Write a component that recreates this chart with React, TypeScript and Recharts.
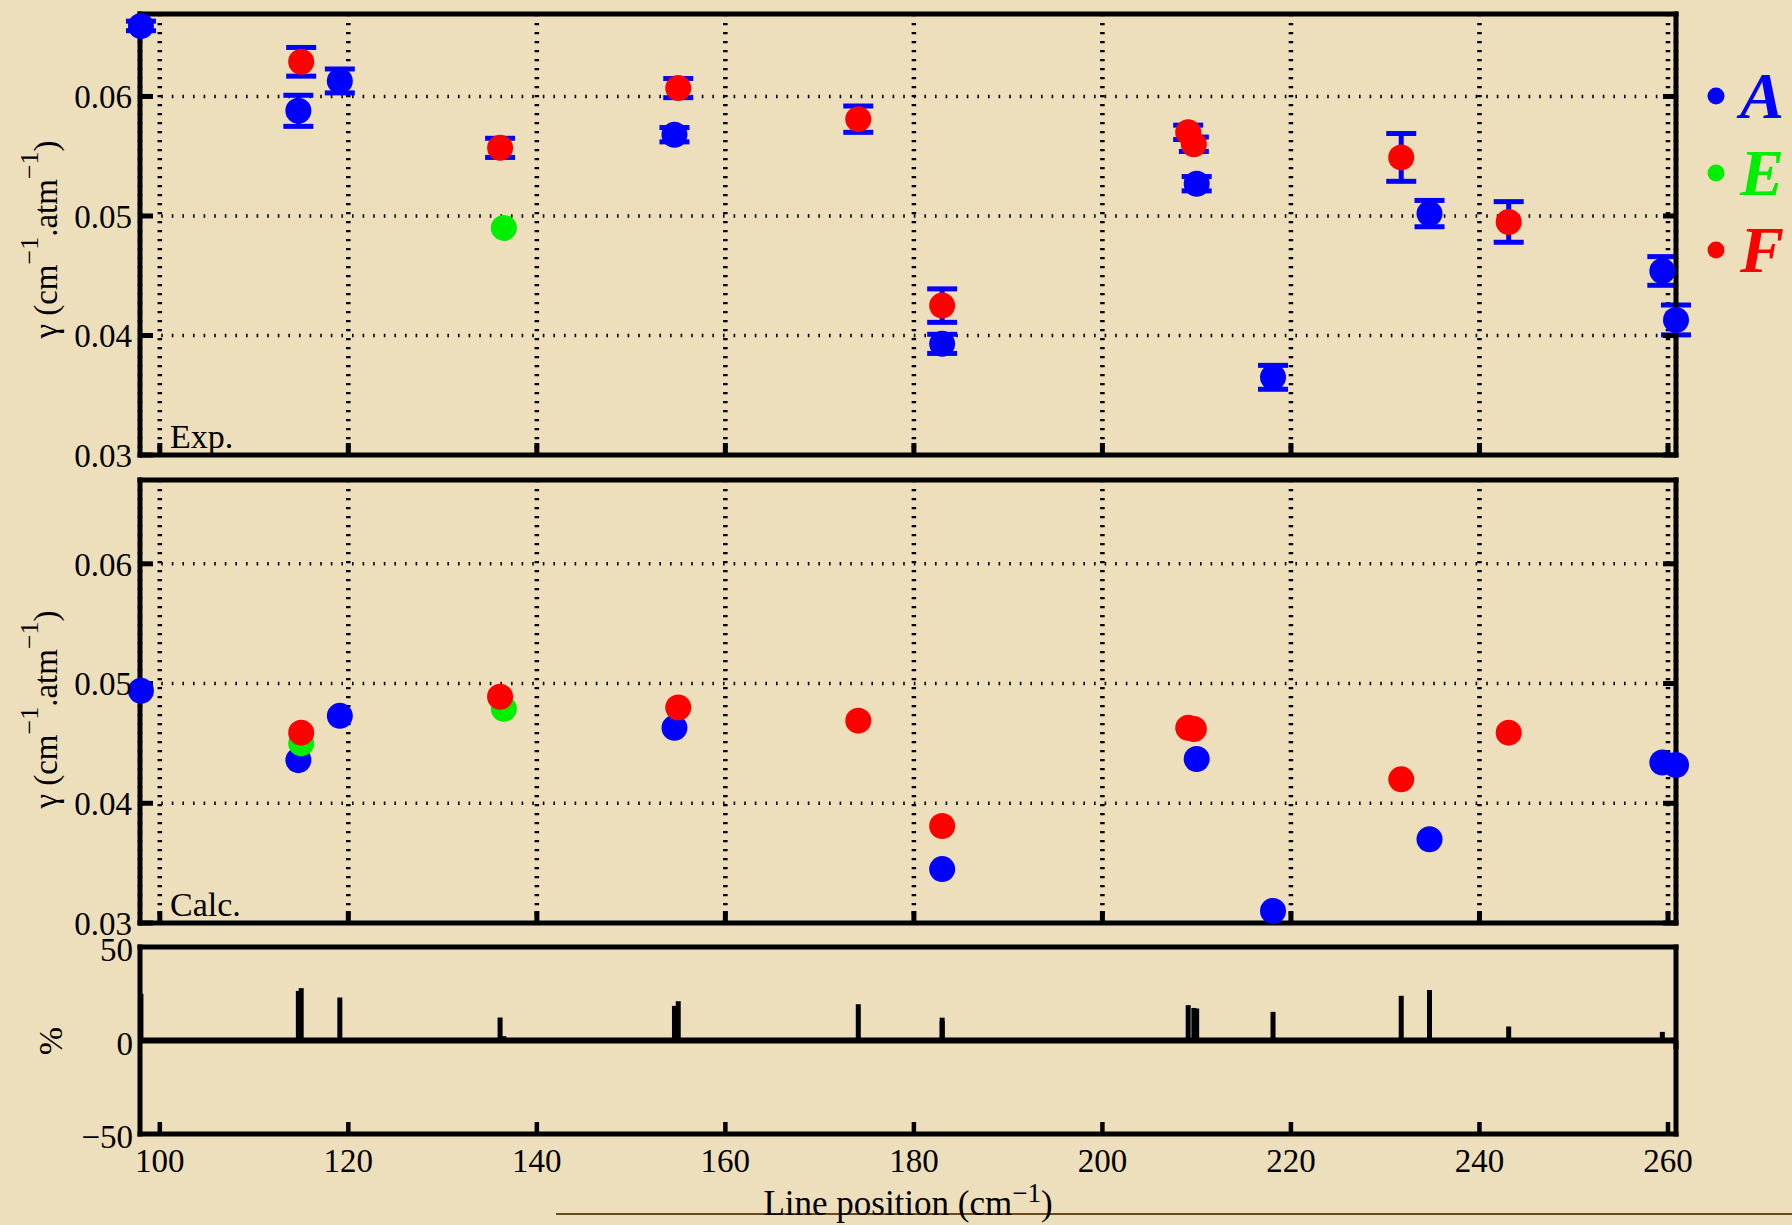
import React from 'react';
import {
  ScatterChart,
  Scatter,
  XAxis,
  YAxis,
  CartesianGrid,
  ErrorBar,
  ReferenceLine,
  Legend,
} from 'recharts';

// page + plot geometry (px)
const W = 1792;
const H = 1225;
const SERIF = '"Liberation Serif", "DejaVu Serif", serif';
const PAPER = '#eedfbc';
const BLUE = '#0000ff';
const GREEN = '#00ee00';
const RED = '#ff0000';

// axes
const xDomain = [97.9, 260.85];
const xTicks = [100, 120, 140, 160, 180, 200, 220, 240, 260];
const gammaTicks = [0.03, 0.04, 0.05, 0.06];
const pctTicks = [-50, 0, 50];

// symmetry A lines (cm-1), exp / calc widths (cm-1.atm-1), diff (%)
const posA = [98.0, 114.7, 119.1, 154.6, 183.0, 210.0, 218.1, 234.7, 259.4, 260.85];
const expA = [0.0659, 0.0588, 0.0613, 0.0568, 0.0393, 0.0527, 0.0365, 0.0502, 0.0454, 0.0413];
const errA = [0.0004, 0.0013, 0.001, 0.0006, 0.0008, 0.0006, 0.001, 0.0011, 0.0012, 0.00125];
const calcA = [0.0494, 0.0436, 0.0473, 0.0463, 0.0345, 0.0437, 0.031, 0.037, 0.0434, 0.0432];
const diffA = [25.0, 26.5, 23.0, 18.5, 12.2, 17.1, 15.3, 27.0, 4.6, -4.6];

// symmetry E lines
const posE = [115.0, 136.5];
const expE = [null, 0.049];
const calcE = [0.045, 0.0479];
const diffE = [null, 2.3];

// symmetry F lines
const posF = [115.0, 136.1, 155.0, 174.1, 183.0, 209.1, 209.7, 231.7, 243.1];
const expF = [0.0629, 0.0557, 0.0607, 0.0581, 0.0425, 0.057, 0.056, 0.0549, 0.0495];
const errF = [0.0012, 0.0008, 0.0008, 0.0011, 0.0014, 0.0006, 0.0006, 0.002, 0.0017];
const calcF = [0.0459, 0.0489, 0.048, 0.0469, 0.0381, 0.0463, 0.0462, 0.042, 0.0459];
const diffF = [28.0, 12.3, 21.0, 19.4, 10.4, 18.9, 17.4, 23.9, 7.5];

const toPoints = (pos: number[], vals: (number | null)[], errs?: number[]) =>
  pos.flatMap((x, i) =>
    vals[i] == null ? [] : [{ x, y: vals[i] as number, err: errs ? errs[i] : 0 }]
  );

// bars drawn as one-sided error bars from 0 to the value
const toBars = (pos: number[], diffs: (number | null)[]) =>
  pos.flatMap((x, i) => {
    const d = diffs[i];
    if (d == null) return [];
    return [{ x, y: d, bar: [Math.max(d, 0), Math.max(-d, 0)] }];
  });

const FRAME = { stroke: '#000', strokeWidth: 5, strokeLinecap: 'square' as const };
const TICK = { stroke: '#000', strokeWidth: 5 };
const TICK_FONT = { fill: '#000', fontSize: 33, fontFamily: SERIF };

// keeps tick marks (and grid) but draws no label
const noLabel = () => <g />;

const dot = (color: string) => (p: any) => <circle cx={p.cx} cy={p.cy} r={13} fill={color} />;

const LEGEND_COLORS: Record<string, string> = { A: BLUE, E: GREEN, F: RED };

function LegendBox({ payload }: any) {
  return (
    <div>
      {(payload || []).map((item: any) => {
        const c = LEGEND_COLORS[item.value] ?? item.color;
        return (
          <svg key={item.value} width={92} height={77} style={{ display: 'block' }}>
            <circle cx={16} cy={38} r={8.5} fill={c} />
            <text
              x={40}
              y={60}
              fill={c}
              fontFamily={SERIF}
              fontSize={66}
              fontWeight="bold"
              fontStyle="italic"
            >
              {item.value}
            </text>
          </svg>
        );
      })}
    </div>
  );
}

const gammaTitle = (cy: number) => () => (
  <text
    transform={`rotate(-90 57 ${cy})`}
    x={57}
    y={cy}
    textAnchor="middle"
    fontFamily={SERIF}
    fontSize={33}
    fill="#000"
  >
    γ (cm
    <tspan dy={-19} fontSize={26}>−1</tspan>
    <tspan dy={19}>.atm</tspan>
    <tspan dy={-19} fontSize={26}>−1</tspan>
    <tspan dy={19}>)</tspan>
  </text>
);

const cornerTag = (text: string, y: number) => () => (
  <text x={170} y={y} fontFamily={SERIF} fontSize={34} fill="#000">
    {text}
  </text>
);

// bottom panel y labels sit a little below their ticks in the reference
const PctTick = (p: any) => {
  const v = p.payload.value;
  return (
    <text x={p.x} y={p.y + 14} textAnchor="end" fontFamily={SERIF} fontSize={33} fill="#000">
      {v < 0 ? `−${-v}` : `${v}`}
    </text>
  );
};

interface GammaProps {
  plotTop: number;
  plotBottom: number;
  yMax: number;
  tag: string;
  a: any[];
  e: any[];
  f: any[];
  errors: boolean;
  legend: boolean;
  titleShift: number;
}

function GammaPanel({ plotTop, plotBottom, yMax, tag, a, e, f, errors, legend, titleShift }: GammaProps) {
  const yDomain = [0.03, yMax];
  const midY = (plotTop + plotBottom) / 2 + titleShift;
  return (
    <div style={{ position: 'absolute', left: 0, top: 0 }}>
      <ScatterChart
        width={W}
        height={H}
        margin={{ top: plotTop - 1, right: 0, bottom: H - plotBottom - 1, left: 0 }}
      >
        <CartesianGrid horizontal vertical={false} stroke="#000" strokeWidth={3.5} strokeDasharray="1.6 9" />
        <CartesianGrid horizontal={false} vertical stroke="#000" strokeWidth={4.5} strokeDasharray="2.2 6.8" />
        <XAxis
          type="number"
          dataKey="x"
          domain={xDomain}
          ticks={xTicks}
          interval={0}
          height={1}
          stroke="#000"
          axisLine={FRAME}
          tickLine={TICK}
          tickSize={-12}
          tick={noLabel}
          label={cornerTag(tag, plotBottom - 7)}
        />
        <XAxis
          xAxisId="t"
          orientation="top"
          type="number"
          domain={xDomain}
          ticks={xTicks}
          interval={0}
          height={1}
          stroke="#000"
          axisLine={FRAME}
          tickLine={TICK}
          tickSize={-12}
          tick={noLabel}
          allowDataOverflow
        />
        <YAxis
          type="number"
          dataKey="y"
          domain={yDomain}
          ticks={gammaTicks}
          interval={0}
          width={140}
          stroke="#000"
          axisLine={FRAME}
          tickLine={TICK}
          tickSize={-13}
          tickMargin={21}
          tick={TICK_FONT}
          tickFormatter={(v: number) => v.toFixed(2)}
          label={gammaTitle(midY)}
        />
        <YAxis
          yAxisId="r"
          orientation="right"
          type="number"
          domain={yDomain}
          ticks={gammaTicks}
          interval={0}
          width={W - 1676}
          stroke="#000"
          axisLine={FRAME}
          tickLine={TICK}
          tickSize={-13}
          tick={noLabel}
          allowDataOverflow
        />
        <Scatter name="A" data={a} fill={BLUE} shape={dot(BLUE)} isAnimationActive={false}>
          {errors && (
            <ErrorBar dataKey="err" direction="y" width={15} strokeWidth={5} stroke={BLUE} isAnimationActive={false} />
          )}
        </Scatter>
        <Scatter name="E" data={e} fill={GREEN} shape={dot(GREEN)} isAnimationActive={false} />
        <Scatter name="F" data={f} fill={RED} shape={dot(RED)} isAnimationActive={false}>
          {errors && (
            <ErrorBar dataKey="err" direction="y" width={15} strokeWidth={5} stroke={BLUE} isAnimationActive={false} />
          )}
        </Scatter>
        {legend && (
          <Legend
            layout="vertical"
            align="center"
            verticalAlign="middle"
            wrapperStyle={{ left: 1700, top: 58, width: 92 }}
            content={<LegendBox />}
          />
        )}
      </ScatterChart>
    </div>
  );
}

function DiffPanel() {
  const plotTop = 947;
  const plotBottom = 1134;
  const bars = [toBars(posA, diffA), toBars(posE, diffE), toBars(posF, diffF)];
  return (
    <div style={{ position: 'absolute', left: 0, top: 0 }}>
      <ScatterChart
        width={W}
        height={H}
        margin={{ top: plotTop - 1, right: 0, bottom: H - plotBottom - 1, left: 0 }}
      >
        <XAxis
          type="number"
          dataKey="x"
          domain={xDomain}
          ticks={xTicks}
          interval={0}
          height={1}
          stroke="#000"
          axisLine={FRAME}
          tickLine={{ stroke: '#000', strokeWidth: 4.5 }}
          tickSize={-12}
          tickMargin={27}
          tick={TICK_FONT}
          label={() => (
            <text x={908} y={1215} textAnchor="middle" fontFamily={SERIF} fontSize={35} fill="#000">
              Line position (cm
              <tspan dy={-13} fontSize={27}>−1</tspan>
              <tspan dy={13}>)</tspan>
            </text>
          )}
        />
        <XAxis
          xAxisId="t"
          orientation="top"
          type="number"
          domain={xDomain}
          ticks={xTicks}
          interval={0}
          height={1}
          stroke="#000"
          axisLine={FRAME}
          tickLine={{ stroke: '#000', strokeWidth: 4.5 }}
          tickSize={-12}
          tick={noLabel}
          allowDataOverflow
        />
        <YAxis
          type="number"
          dataKey="y"
          domain={[-50, 50]}
          ticks={pctTicks}
          interval={0}
          width={140}
          stroke="#000"
          axisLine={FRAME}
          tickLine={false}
          tickSize={0}
          tickMargin={7}
          tick={PctTick}
          label={() => (
            <text
              transform="rotate(-90 62 1041)"
              x={62}
              y={1041}
              textAnchor="middle"
              fontFamily={SERIF}
              fontSize={34}
              fill="#000"
            >
              %
            </text>
          )}
        />
        <YAxis
          yAxisId="r"
          orientation="right"
          type="number"
          domain={[-50, 50]}
          ticks={pctTicks}
          width={W - 1676}
          stroke="#000"
          axisLine={FRAME}
          tickLine={false}
          tick={noLabel}
          allowDataOverflow
        />
        <ReferenceLine y={0} stroke="#000" strokeWidth={6} />
        {bars.map((d, i) => (
          <Scatter key={i} data={d} fill="#000" shape={() => <g />} isAnimationActive={false}>
            <ErrorBar dataKey="bar" direction="y" width={0} strokeWidth={5} stroke="#000" isAnimationActive={false} />
          </Scatter>
        ))}
      </ScatterChart>
    </div>
  );
}

export default function App() {
  return (
    <div
      style={{
        position: 'absolute',
        left: 0,
        top: 0,
        width: W,
        height: H,
        background: PAPER,
        overflow: 'hidden',
      }}
    >
      <div style={{ position: 'absolute', left: 556, top: 1213, width: W - 556, height: 2, background: '#6b4a20' }} />
      <GammaPanel
        plotTop={14}
        plotBottom={455}
        yMax={0.0669}
        tag="Exp."
        a={toPoints(posA, expA, errA)}
        e={toPoints(posE, expE)}
        f={toPoints(posF, expF, errF)}
        errors
        legend
        titleShift={5}
      />
      <GammaPanel
        plotTop={480}
        plotBottom={923}
        yMax={0.067}
        tag="Calc."
        a={toPoints(posA, calcA)}
        e={toPoints(posE, calcE)}
        f={toPoints(posF, calcF)}
        errors={false}
        legend={false}
        titleShift={8}
      />
      <DiffPanel />
    </div>
  );
}
